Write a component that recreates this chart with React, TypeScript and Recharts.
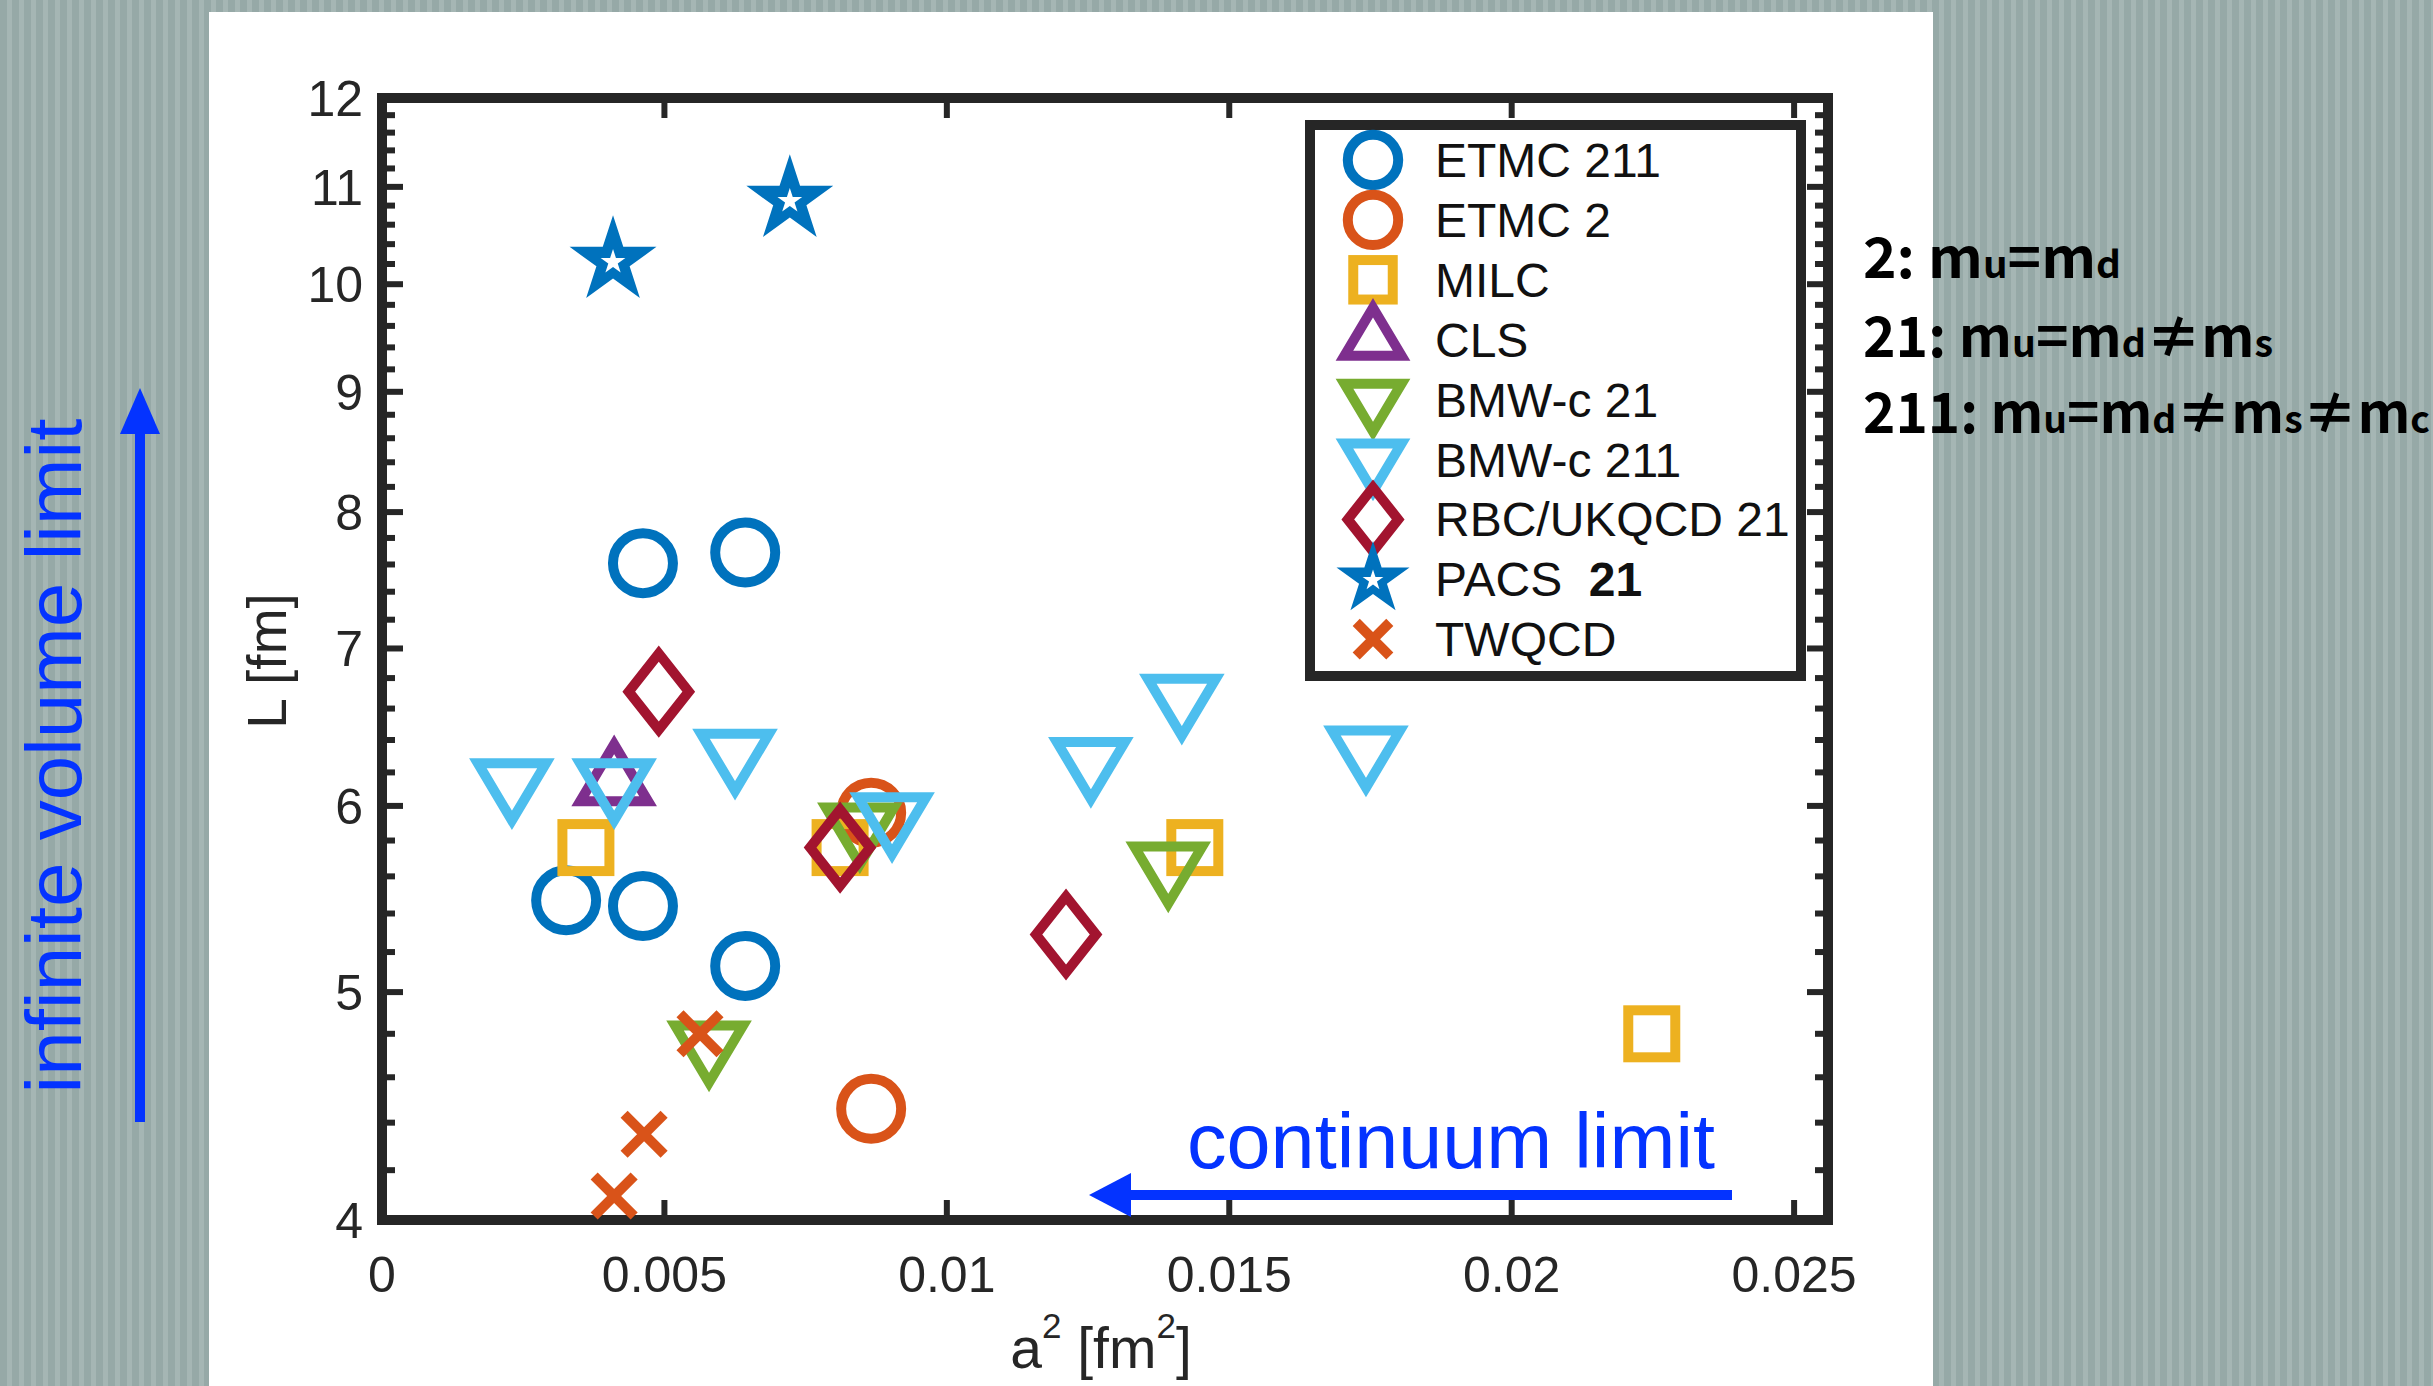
import { ScatterChart, Scatter, XAxis, YAxis, Legend } from "recharts";

// values (a^2 in fm^2, L in fm)
const xTicks = [0, 0.005, 0.01, 0.015, 0.02, 0.025];
const yMajorTicks = [4, 5, 6, 7, 8, 9, 10, 11, 12];
const yMinorTicks = [
  4.2, 4.4, 4.6, 4.8, 5.2, 5.4, 5.6, 5.8, 6.2, 6.4, 6.6, 6.8, 7.2, 7.4, 7.6, 7.8,
  8.2, 8.4, 8.6, 8.8, 9.2, 9.4, 9.6, 9.8, 10.2, 10.4, 10.6, 10.8, 11.2, 11.4, 11.6, 11.8,
];
const yTicks = [...yMajorTicks, ...yMinorTicks].sort((a, b) => a - b);

const etmc211 = [
  { x: 0.00326, y: 5.47 },
  { x: 0.00462, y: 7.61 },
  { x: 0.00462, y: 5.44 },
  { x: 0.00643, y: 7.69 },
  { x: 0.00643, y: 5.13 },
];
const etmc2 = [
  { x: 0.00866, y: 5.96 },
  { x: 0.00866, y: 4.46 },
];
const milc = [
  { x: 0.00361, y: 5.76 },
  { x: 0.00811, y: 5.76 },
  { x: 0.01439, y: 5.76 },
  { x: 0.02248, y: 4.8 },
];
const cls = [{ x: 0.00411, y: 6.14 }];
const bmw21 = [
  { x: 0.00579, y: 4.75 },
  { x: 0.00846, y: 5.88 },
  { x: 0.01392, y: 5.66 },
];
const bmw211 = [
  { x: 0.0023, y: 6.14 },
  { x: 0.00411, y: 6.14 },
  { x: 0.00625, y: 6.32 },
  { x: 0.00903, y: 5.94 },
  { x: 0.01255, y: 6.27 },
  { x: 0.01416, y: 6.67 },
  { x: 0.01742, y: 6.34 },
];
const rbc = [
  { x: 0.0049, y: 6.71 },
  { x: 0.00811, y: 5.76 },
  { x: 0.01211, y: 5.29 },
];
const pacs = [
  { x: 0.00409, y: 10.23 },
  { x: 0.00722, y: 10.86 },
];
const twqcd = [
  { x: 0.00563, y: 4.8 },
  { x: 0.00464, y: 4.35 },
  { x: 0.00411, y: 4.095 },
];

const series = [
  { name: "ETMC 211", data: etmc211, kind: "circle", color: "#0072BD" },
  { name: "ETMC 2", data: etmc2, kind: "circle", color: "#D95319" },
  { name: "MILC", data: milc, kind: "square", color: "#EDB120" },
  { name: "CLS", data: cls, kind: "up", color: "#7E2F8E" },
  { name: "BMW-c 21", data: bmw21, kind: "down", color: "#77AC30" },
  { name: "BMW-c 211", data: bmw211, kind: "down", color: "#4DBEEE" },
  { name: "RBC/UKQCD 21", data: rbc, kind: "diamond", color: "#A2142F" },
  { name: "PACS", data: pacs, kind: "star", color: "#0072BD" },
  { name: "TWQCD", data: twqcd, kind: "x", color: "#D95319" },
];

const AXIS = "#262626";
const BLUE = "#0433FF";
const FONT = "'Liberation Sans', Arial, Helvetica, sans-serif";

function starPoints(cx: number, cy: number, R: number) {
  const pts: string[] = [];
  for (let i = 0; i < 10; i++) {
    const a = ((-90 + i * 36) * Math.PI) / 180;
    const r = i % 2 === 0 ? R : R * 0.382;
    pts.push(`${cx + r * Math.cos(a)},${cy + r * Math.sin(a)}`);
  }
  return pts.join(" ");
}

function marker(kind: string, color: string, cx: number, cy: number, s: number) {
  const line = { fill: "none", stroke: color, strokeWidth: 10, strokeLinejoin: "miter" as const };
  switch (kind) {
    case "circle":
      return <circle cx={cx} cy={cy} r={30 * s} {...line} />;
    case "square": {
      const h = 23.5 * s;
      return <rect x={cx - h} y={cy - h} width={2 * h} height={2 * h} {...line} />;
    }
    case "up":
      return <polygon points={`${cx},${cy - 38 * s} ${cx + 34 * s},${cy + 19 * s} ${cx - 34 * s},${cy + 19 * s}`} {...line} />;
    case "down":
      return <polygon points={`${cx},${cy + 38 * s} ${cx + 34 * s},${cy - 19 * s} ${cx - 34 * s},${cy - 19 * s}`} {...line} />;
    case "diamond":
      return <polygon points={`${cx},${cy - 38 * s} ${cx + 30 * s},${cy} ${cx},${cy + 38 * s} ${cx - 30 * s},${cy}`} {...line} />;
    case "star":
      return (
        <g>
          <polygon points={starPoints(cx, cy, 45.7 * s)} fill={color} />
          <polygon points={starPoints(cx, cy + 1, 13 * s)} fill="#fff" />
        </g>
      );
    default: {
      const d = 20 * s;
      return (
        <g stroke={color} strokeWidth={10}>
          <line x1={cx - d} y1={cy - d} x2={cx + d} y2={cy + d} />
          <line x1={cx - d} y1={cy + d} x2={cx + d} y2={cy - d} />
        </g>
      );
    }
  }
}

const axisLine = { stroke: AXIS, strokeWidth: 10, strokeLinecap: "square" as const };

const bottomTick = (p: any) => (
  <g>
    <line x1={p.x} y1={p.y} x2={p.x} y2={p.y - 20} stroke={AXIS} strokeWidth={6} />
    <text x={p.x} y={p.y + 72} textAnchor="middle" fontSize={50} fontFamily={FONT} fill={AXIS}>
      {String(p.payload.value)}
    </text>
  </g>
);
const topTick = (p: any) => (
  <line x1={p.x} y1={p.y} x2={p.x} y2={p.y + 20} stroke={AXIS} strokeWidth={6} />
);
const leftTick = (p: any) => {
  const major = yMajorTicks.includes(p.payload.value);
  return (
    <g>
      <line x1={p.x} y1={p.y} x2={p.x + (major ? 21 : 13)} y2={p.y} stroke={AXIS} strokeWidth={6} />
      {major && (
        <text x={p.x - 19} y={p.y} dy="0.36em" textAnchor="end" fontSize={50} fontFamily={FONT} fill={AXIS}>
          {String(p.payload.value)}
        </text>
      )}
    </g>
  );
};
const rightTick = (p: any) => {
  const major = yMajorTicks.includes(p.payload.value);
  return <line x1={p.x} y1={p.y} x2={p.x - (major ? 21 : 13)} y2={p.y} stroke={AXIS} strokeWidth={6} />;
};

function LegendBox() {
  return (
    <svg width={502} height={562}>
      <rect x={5} y={5} width={491} height={551} fill="#fff" stroke={AXIS} strokeWidth={10} />
      {series.map((s, i) => {
        const cy = 40 + i * 59.9;
        return (
          <g key={s.name}>
            {marker(s.kind, s.color, 68, cy, 0.84)}
            <text x={130} y={cy + 17} fontSize={48} fontFamily={FONT} fill="#111">
              {s.name}
              {s.name === "PACS" && <tspan fontWeight="bold">{"\u00a0\u00a021"}</tspan>}
            </text>
          </g>
        );
      })}
    </svg>
  );
}

const hidden = [{ x: 0.01, y: 6 }];

export default function App() {
  const stripes =
    "repeating-linear-gradient(90deg, #96a9a7 0px, #96a9a7 7px, #a5b6b4 7px, #a5b6b4 12px)";
  const jp = "'Noto Sans CJK JP', 'Noto Sans', sans-serif";
  return (
    <div style={{ position: "absolute", left: 0, top: 0, width: 2433, height: 1386, overflow: "hidden", background: stripes }}>
      <div style={{ position: "absolute", left: 209, top: 12, width: 1724, height: 1374, background: "#fff" }} />
      <div style={{ position: "absolute", left: 0, top: 0 }}>
        <ScatterChart width={2433} height={1386} margin={{ top: 88, right: 595, bottom: 106, left: 282 }}>
          <XAxis xAxisId="b" type="number" dataKey="x" domain={[0, 0.0256]} allowDataOverflow ticks={xTicks}
            interval={0} height={60} tickSize={0} tickMargin={0} tickLine={false} axisLine={axisLine} tick={bottomTick} />
          <XAxis xAxisId="t" orientation="top" type="number" dataKey="x" domain={[0, 0.0256]} allowDataOverflow
            ticks={xTicks} interval={0} height={10} tickSize={0} tickMargin={0} tickLine={false} axisLine={axisLine} tick={topTick} />
          <YAxis yAxisId="l" type="number" dataKey="y" scale="log" domain={[4, 12]} allowDataOverflow ticks={yTicks}
            interval={0} width={100} tickSize={0} tickMargin={0} tickLine={false} axisLine={axisLine} tick={leftTick} />
          <YAxis yAxisId="r" orientation="right" type="number" dataKey="y" scale="log" domain={[4, 12]} allowDataOverflow
            ticks={yTicks} interval={0} width={10} tickSize={0} tickMargin={0} tickLine={false} axisLine={axisLine} tick={rightTick} />
          <Scatter data={hidden} xAxisId="t" yAxisId="r" isAnimationActive={false} legendType="none" shape={() => <g />} />
          {series.map((s) => (
            <Scatter key={s.name} name={s.name} data={s.data} xAxisId="b" yAxisId="l" isAnimationActive={false}
              shape={(p: any) => marker(s.kind, s.color, p.cx, p.cy, 1)} />
          ))}
          <Legend layout="vertical" align="center" verticalAlign="middle" content={() => <LegendBox />}
            wrapperStyle={{ position: "absolute", left: 1305, top: 120, width: 502, height: 562 }} />
        </ScatterChart>
      </div>
      <svg width={2433} height={1386} style={{ position: "absolute", left: 0, top: 0, pointerEvents: "none" }}>
        <text transform="translate(266,661) rotate(-90)" textAnchor="middle" dy="0.36em" fontSize={55} fontFamily={FONT} fill={AXIS}>
          L [fm]
        </text>
        <text x={1101} y={1368} textAnchor="middle" fontSize={57} fontFamily={FONT} fill={AXIS}>
          a<tspan fontSize={35} dy={-30}>2</tspan>
          <tspan dy={30}> [fm</tspan>
          <tspan fontSize={35} dy={-30}>2</tspan>
          <tspan dy={30}>]</tspan>
        </text>
        {/* continuum limit arrow */}
        <text x={1187} y={1168} fontSize={78} fontFamily={FONT} fill={BLUE} textLength={528} lengthAdjust="spacingAndGlyphs">
          continuum limit
        </text>
        <line x1={1128} y1={1195} x2={1732} y2={1195} stroke={BLUE} strokeWidth={10} />
        <polygon points="1089,1195 1131,1173 1131,1217" fill={BLUE} />
        {/* infinite volume arrow */}
        <text transform="translate(81,756) rotate(-90)" textAnchor="middle" fontSize={78} fontFamily={FONT} fill={BLUE}
          textLength={675} lengthAdjust="spacingAndGlyphs">
          infinite volume limit
        </text>
        <line x1={140} y1={431} x2={140} y2={1122} stroke={BLUE} strokeWidth={10} />
        <polygon points="140,388 120,434 160,434" fill={BLUE} />
        {/* flavour notes */}
        <g fontFamily={jp} fontWeight="bold" fill="#000">
          <text x={1863} y={278} fontSize={56} textLength={258} lengthAdjust="spacingAndGlyphs">
            2: m<tspan fontSize={38}>u</tspan>=m<tspan fontSize={38}>d</tspan>
          </text>
          <text x={1863} y={357} fontSize={56} textLength={410} lengthAdjust="spacingAndGlyphs">
            21: m<tspan fontSize={38}>u</tspan>=m<tspan fontSize={38}>d</tspan>≠m<tspan fontSize={38}>s</tspan>
          </text>
          <text x={1863} y={433} fontSize={56} textLength={567} lengthAdjust="spacingAndGlyphs">
            211: m<tspan fontSize={38}>u</tspan>=m<tspan fontSize={38}>d</tspan>≠m<tspan fontSize={38}>s</tspan>≠m
            <tspan fontSize={38}>c</tspan>
          </text>
        </g>
      </svg>
    </div>
  );
}
